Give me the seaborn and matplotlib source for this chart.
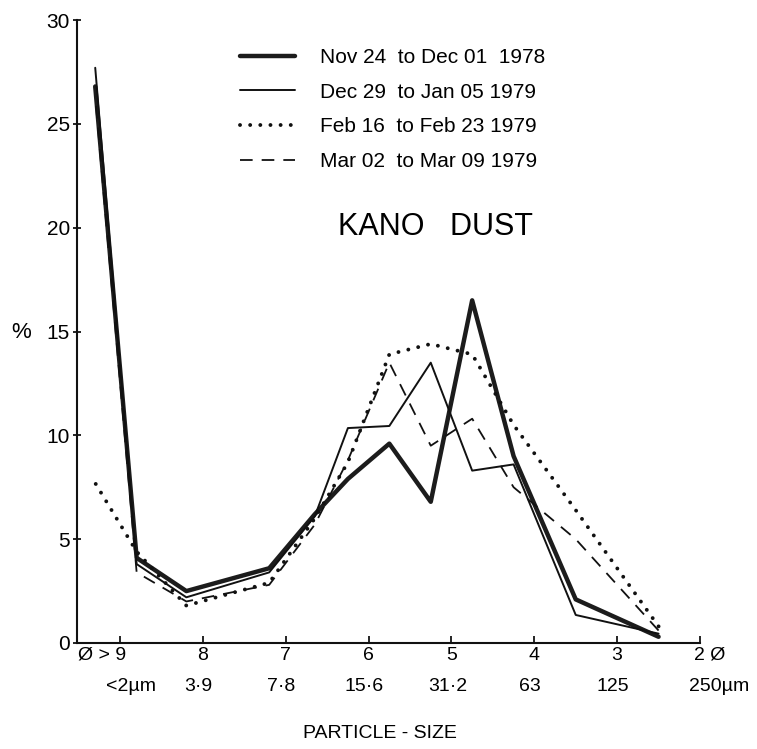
import numpy as np
import pandas as pd
import matplotlib
matplotlib.use('Agg')
import matplotlib.pyplot as plt
import seaborn as sns

# Particle size (phi units) where each curve has a vertex
phi_pos = [9.3, 8.8, 8.2, 7.2, 6.65, 6.25, 5.75, 5.25, 4.75, 4.25, 3.5, 2.5]

# % of sample per size class
nov24 = [26.8, 4.1, 2.5, 3.6, 6.2, 7.9, 9.6, 6.8, 16.5, 9.0, 2.1, 0.3]
dec29 = [27.7, 3.8, 2.2, 3.4, 6.1, 10.35, 10.45, 13.5, 8.3, 8.6, 1.35, 0.45]
feb16 = [7.7, 4.4, 1.8, 2.9, 6.0, 8.7, 13.9, 14.4, 13.9, 10.5, 6.4, 0.8]
mar02 = [26.3, 3.4, 2.0, 2.8, 5.7, 8.8, 13.5, 9.5, 10.8, 7.5, 5.0, 0.6]

series_labels = ['Nov 24  to Dec 01  1978', 'Dec 29  to Jan 05 1979',
                 'Feb 16  to Feb 23 1979', 'Mar 02  to Mar 09 1979']

phi_ticks = [9, 8, 7, 6, 5, 4, 3, 2]
phi_labels = ['\u00d8 > 9', '8', '7', '6', '5', '4', '3', '2 \u00d8']
um_labels = ['<2\u00b5m', '3\u00b79', '7\u00b78', '15\u00b76', '31\u00b72', '63', '125', '250\u00b5m']

sns.set_style('ticks')
plt.rcParams['font.family'] = ['Liberation Sans', 'DejaVu Sans']
plt.rcParams['text.color'] = 'black'
plt.rcParams['xtick.color'] = 'black'
plt.rcParams['ytick.color'] = 'black'

fig = plt.figure(figsize=(7.57, 7.49), dpi=100)
ax = fig.add_axes([77 / 757, 1 - 643 / 749, (700 - 77) / 757, (643 - 20) / 749])

styles = [
    dict(color='#1c1c1c', linewidth=3.2, linestyle='-'),
    dict(color='#111111', linewidth=1.4, linestyle='-'),
    dict(color='#111111', linewidth=2.8, linestyle=(0, (0.01, 2.6)), dash_capstyle='round'),
    dict(color='#111111', linewidth=1.3, linestyle=(0, (7, 5))),
]

for vals, lab, kw in zip([nov24, dec29, feb16, mar02], series_labels, styles):
    df = pd.DataFrame({'phi': phi_pos, 'pct': vals})
    sns.lineplot(data=df, x='phi', y='pct', ax=ax, label=lab, **kw)

ax.set_xlim(9.52, 2)
ax.set_ylim(0, 30)
ax.set_xlabel('')
ax.set_ylabel('')
sns.despine(ax=ax)
for sp in ['left', 'bottom']:
    ax.spines[sp].set_linewidth(1.5)
    ax.spines[sp].set_color('#111111')

ax.set_yticks(range(0, 31, 5))
ax.tick_params(axis='y', direction='inout', length=6, width=1.2, labelsize=15, pad=2,
               labelcolor='black')
ax.set_xticks(phi_ticks)
ax.set_xticklabels([])
ax.tick_params(axis='x', direction='in', length=5, width=1.2)

# two rows of x tick text: phi units and micrometres
row1_off = {0: (4, 'right'), 7: (-4, 'left')}
row2_off = {0: (8, 'center'), 7: (14, 'center')}
for i, (p, l1, l2) in enumerate(zip(phi_ticks, phi_labels, um_labels)):
    dx, ha = row1_off.get(i, (0, 'center'))
    ax.annotate(l1, xy=(p, 0), xycoords=('data', 'axes fraction'), xytext=(dx, -9),
                textcoords='offset points', ha=ha, va='center', fontsize=14, color='black')
    dx, ha = row2_off.get(i, (-3, 'center'))
    ax.annotate(l2, xy=(p, 0), xycoords=('data', 'axes fraction'), xytext=(dx, -31),
                textcoords='offset points', ha=ha, va='center', fontsize=14, color='black')

fig.text(380 / 757, 1 - 733 / 749, 'PARTICLE - SIZE', ha='center', va='center', fontsize=14)
fig.text(21 / 757, 1 - 332 / 749, '%', ha='center', va='center', fontsize=16)
fig.text(435 / 757, 1 - 227 / 749, 'KANO   DUST', ha='center', va='center', fontsize=22)

leg = ax.legend(loc='upper left', bbox_to_anchor=(240 / 757, 1 - 48 / 749),
                bbox_transform=fig.transFigure, frameon=False, fontsize=15,
                borderpad=0, borderaxespad=0, handlelength=2.65, handletextpad=1.2,
                labelspacing=0.75)
for t in leg.get_texts():
    t.set_color('black')

fig.savefig('out.png', dpi=100)
